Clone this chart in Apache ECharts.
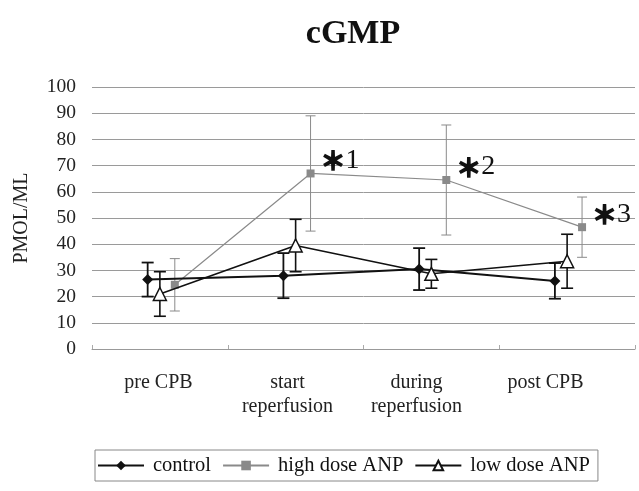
<!DOCTYPE html>
<html><head><meta charset="utf-8">
<script src="https://cdn.jsdelivr.net/npm/echarts@6/dist/echarts.min.js"></script>
<style>html,body{margin:0;padding:0;background:#fff}#c{width:639px;height:491px}</style>
</head><body><div id="c"></div>
<script>
var categories = ['pre CPB', 'start\nreperfusion', 'during\nreperfusion', 'post CPB'];
var yTicks = [0, 10, 20, 30, 40, 50, 60, 70, 80, 90, 100];
var controlMean = [26.5, 28, 30.5, 26];
var controlErr = [6.5, 8.6, 8, 6.8];
var highMean = [24.5, 67, 64.5, 46.5];
var highErr = [10, 22, 21, 11.5];
var lowMean = [21, 39.5, 28.7, 33.5];
var lowErr = [8.5, 10, 5.5, 10.3];
var highNotes = ['', '1', '2', '3'];

var FONT = '"Liberation Serif", "DejaVu Serif", serif';
var offsets = {control: -0.09, high: 0.11, low: 0.0};

function pts(mean, off) {
  return mean.map(function (v, i) { return [i + 0.5 + off, v]; });
}
function errData(mean, err, off) {
  return mean.map(function (v, i) { return [i + 0.5 + off, v - err[i], v + err[i]]; });
}
function errSeries(name, mean, err, off, color, cap, width) {
  return {
    type: 'custom', name: name + ' err', xAxisIndex: 0, yAxisIndex: 0, silent: true, z: 1,
    data: errData(mean, err, off),
    renderItem: function (params, api) {
      var lo = api.coord([api.value(0), api.value(1)]);
      var hi = api.coord([api.value(0), api.value(2)]);
      var st = {stroke: color, lineWidth: width};
      return {type: 'group', children: [
        {type: 'line', shape: {x1: lo[0], y1: lo[1], x2: hi[0], y2: hi[1]}, style: st},
        {type: 'line', shape: {x1: lo[0] - cap, y1: lo[1], x2: lo[0] + cap, y2: lo[1]}, style: st},
        {type: 'line', shape: {x1: hi[0] - cap, y1: hi[1], x2: hi[0] + cap, y2: hi[1]}, style: st}
      ]};
    }
  };
}

var chart = echarts.init(document.getElementById('c'), null, {renderer: 'canvas'});
chart.setOption({
  backgroundColor: '#fff',
  animation: false,
  title: {
    text: 'cGMP', left: 348, top: 12, textAlign: 'center',
    textStyle: {fontFamily: FONT, fontWeight: 'bold', fontSize: 34, color: '#111'}
  },
  legend: {
    left: 95, top: 450,
    padding: [5, 8, 5, 2],
    borderColor: '#888', borderWidth: 1,
    itemWidth: 46, itemHeight: 12, itemGap: 11,
    textStyle: {fontFamily: FONT, fontSize: 20.5, color: '#111', padding: [0, 0, 0, 4]},
    data: ['control', 'high dose ANP', 'low dose ANP']
  },
  grid: [
    {left: 92, right: 4, top: 87, bottom: 142},
    {left: 94, width: 516, top: 87, bottom: 142}
  ],
  xAxis: [
    {type: 'value', gridIndex: 0, min: 0, max: 4, interval: 1,
     axisLine: {show: true, lineStyle: {color: '#999', width: 1}},
     axisTick: {show: true, inside: true, length: 4, lineStyle: {color: '#aaa'}},
     axisLabel: {show: false}, splitLine: {show: false}},
    {type: 'category', gridIndex: 1, data: categories, boundaryGap: true,
     axisLine: {show: false}, axisTick: {show: false}, splitLine: {show: false},
     axisLabel: {fontFamily: FONT, fontSize: 20, color: '#222', lineHeight: 24, margin: 22, interval: 0}}
  ],
  yAxis: [
    {type: 'value', gridIndex: 0, min: yTicks[0], max: yTicks[yTicks.length - 1], interval: 10,
     name: 'PMOL/ML', nameLocation: 'middle', nameGap: 60, nameRotate: 90,
     nameTextStyle: {fontFamily: FONT, fontSize: 20, color: '#222'},
     axisLine: {show: false}, axisTick: {show: false},
     axisLabel: {fontFamily: FONT, fontSize: 19.5, color: '#222', margin: 16},
     splitLine: {show: true, lineStyle: {color: '#9a9a9a', width: 1}}},
    {type: 'value', gridIndex: 1, show: false, min: 0, max: 100}
  ],
  series: [
    errSeries('control', controlMean, controlErr, offsets.control, '#111', 6, 1.8),
    errSeries('high dose ANP', highMean, highErr, offsets.high, '#8a8a8a', 5, 1),
    errSeries('low dose ANP', lowMean, lowErr, offsets.low, '#111', 6, 1.6),
    {name: 'control', type: 'line', xAxisIndex: 0, yAxisIndex: 0, z: 3,
     data: pts(controlMean, offsets.control),
     symbol: 'diamond', symbolSize: 11,
     itemStyle: {color: '#111'}, lineStyle: {color: '#111', width: 2}},
    {name: 'high dose ANP', type: 'line', xAxisIndex: 0, yAxisIndex: 0, z: 2,
     data: pts(highMean, offsets.high),
     symbol: 'rect', symbolSize: 8,
     itemStyle: {color: '#8a8a8a'}, lineStyle: {color: '#8a8a8a', width: 1.2},
     label: {show: true, position: 'right', distance: 6, offset: [0, -13],
       formatter: function (p) { return highNotes[p.dataIndex] ? '{a|＊}{b|' + highNotes[p.dataIndex] + '}' : ''; },
       rich: {
         a: {fontFamily: '"Noto Sans CJK JP"', fontSize: 25, fontWeight: 'bold', color: '#111',
             textBorderColor: '#111', textBorderWidth: 1.6},
         b: {fontFamily: FONT, fontSize: 28, color: '#111'}
       }}},
    {name: 'low dose ANP', type: 'line', xAxisIndex: 0, yAxisIndex: 0, z: 4,
     data: pts(lowMean, offsets.low),
     symbol: 'triangle', symbolSize: 13, showAllSymbol: true,
     itemStyle: {color: '#fff', borderColor: '#111', borderWidth: 1.5},
     lineStyle: {color: '#111', width: 1.6}}
  ]
});
</script></body></html>
